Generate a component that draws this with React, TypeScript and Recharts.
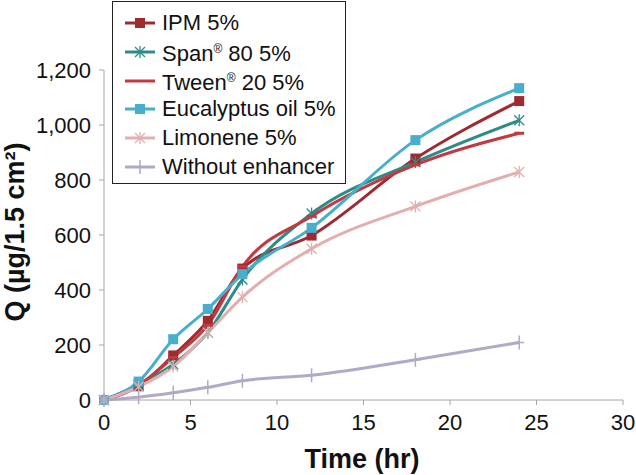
import * as React from 'react';
import { LineChart, Line, XAxis, YAxis } from 'recharts';

const time = [0, 2, 4, 6, 8, 12, 18, 24];
const ipm = [0, 50, 162, 288, 478, 598, 878, 1087];
const span80 = [0, 56, 130, 245, 438, 678, 865, 1017];
const tween20 = [0, 55, 155, 272, 485, 668, 855, 970];
const eucalyptus = [0, 67, 221, 331, 458, 626, 945, 1134];
const limonene = [0, 48, 122, 245, 374, 550, 704, 829];
const noEnhancer = [0, 10, 26, 46, 70, 90, 146, 209];

const xTicks = [0, 5, 10, 15, 20, 25, 30];
const yTicks = [0, 200, 400, 600, 800, 1000, 1200];

type Marker = 'square' | 'asterisk' | 'dash' | 'plus';

const seriesList: { key: string; name: string; values: number[]; color: string; marker: Marker }[] = [
  { key: 'ipm', name: 'IPM 5%', values: ipm, color: '#9E2B30', marker: 'square' },
  { key: 'span', name: 'Span® 80 5%', values: span80, color: '#2C8C88', marker: 'asterisk' },
  { key: 'tween', name: 'Tween® 20 5%', values: tween20, color: '#C13A40', marker: 'dash' },
  { key: 'euc', name: 'Eucalyptus oil 5%', values: eucalyptus, color: '#47AECB', marker: 'square' },
  { key: 'lim', name: 'Limonene 5%', values: limonene, color: '#E3AEAE', marker: 'asterisk' },
  { key: 'none', name: 'Without enhancer', values: noEnhancer, color: '#B1A9C7', marker: 'plus' },
];

const chartData = time.map((t, i) => {
  const row: Record<string, number> = { time: t };
  seriesList.forEach((s) => {
    row[s.key] = s.values[i];
  });
  return row;
});

const FONT = '"Liberation Sans", Arial, Helvetica, sans-serif';
const AXIS = '#A6A6A6';

function drawMarker(kind: Marker, cx: number, cy: number, color: string, key?: string) {
  if (kind === 'square') {
    return <rect key={key} x={cx - 5} y={cy - 5} width={10} height={10} fill={color} />;
  }
  if (kind === 'asterisk') {
    return (
      <g key={key} stroke={color} strokeWidth={1.3}>
        <line x1={cx - 5} y1={cy - 5} x2={cx + 5} y2={cy + 5} />
        <line x1={cx - 5} y1={cy + 5} x2={cx + 5} y2={cy - 5} />
        <line x1={cx} y1={cy - 6} x2={cx} y2={cy + 6} />
      </g>
    );
  }
  if (kind === 'plus') {
    return (
      <g key={key} stroke={color} strokeWidth={1.5}>
        <line x1={cx} y1={cy - 7} x2={cx} y2={cy + 7} />
        <line x1={cx - 5} y1={cy} x2={cx + 5} y2={cy} />
      </g>
    );
  }
  return <line key={key} x1={cx - 5} y1={cy} x2={cx + 5} y2={cy} stroke={color} strokeWidth={3} />;
}

function splitReg(name: string) {
  const idx = name.indexOf('®');
  if (idx < 0) return <>{name}</>;
  return (
    <>
      {name.slice(0, idx)}
      <sup style={{ fontSize: 12 }}>®</sup>
      {name.slice(idx + 1)}
    </>
  );
}

function LegendBox() {
  return (
    <div
      style={{
        position: 'absolute',
        left: 112,
        top: 1,
        border: '1px solid #222',
        background: '#fff',
        width: 234,
        height: 183,
        boxSizing: 'border-box',
        padding: '7px 0 0 12px',
        fontFamily: FONT,
        fontSize: 22,
        color: '#111',
      }}
    >
      {seriesList.map((s) => (
        <div key={s.key} style={{ display: 'flex', alignItems: 'center', height: 28.7 }}>
          <svg width={30} height={16} style={{ marginRight: 7 }}>
            <line x1={0} y1={8} x2={30} y2={8} stroke={s.color} strokeWidth={3} />
            {s.marker !== 'dash' && drawMarker(s.marker, 15, 8, s.color)}
          </svg>
          <span style={{ lineHeight: '24px', whiteSpace: 'nowrap' }}>{splitReg(s.name)}</span>
        </div>
      ))}
    </div>
  );
}

export default function App() {
  return (
    <div style={{ position: 'absolute', left: 0, top: 0, width: 636, height: 475, background: '#fff' }}>
      <LineChart width={636} height={475} data={chartData} margin={{ top: 70, right: 13, bottom: 0, left: 0 }}>
        <XAxis
          dataKey="time"
          type="number"
          domain={[0, 30]}
          ticks={xTicks}
          interval={0}
          height={75}
          stroke={AXIS}
          tickSize={5}
          tick={{ fill: '#111', fontSize: 22, fontFamily: FONT, dy: 7 }}
          label={{
            content: () => (
              <text x={362} y={468} textAnchor="middle" fontFamily={FONT} fontWeight="bold" fontSize={27} fill="#111">
                Time (hr)
              </text>
            ),
          }}
        />
        <YAxis
          type="number"
          domain={[0, 1200]}
          ticks={yTicks}
          interval={0}
          width={104}
          stroke={AXIS}
          tickSize={5}
          tickFormatter={(v: number) => v.toLocaleString('en-US')}
          tick={{ fill: '#111', fontSize: 22, fontFamily: FONT, dx: -6 }}
          label={{
            content: () => (
              <text
                x={24}
                y={232}
                transform="rotate(-90 24 232)"
                textAnchor="middle"
                fontFamily={FONT}
                fontWeight="bold"
                fontSize={27}
                fill="#111"
              >
                Q (µg/1.5 cm²)
              </text>
            ),
          }}
        />
        {seriesList.map((s) => (
          <Line
            key={s.key}
            dataKey={s.key}
            name={s.name}
            type="monotone"
            stroke={s.color}
            strokeWidth={3}
            isAnimationActive={false}
            dot={(p: any) => drawMarker(s.marker, p.cx, p.cy, s.color, `${s.key}-${p.index}`)}
            activeDot={false}
          />
        ))}
      </LineChart>
      <LegendBox />
    </div>
  );
}
